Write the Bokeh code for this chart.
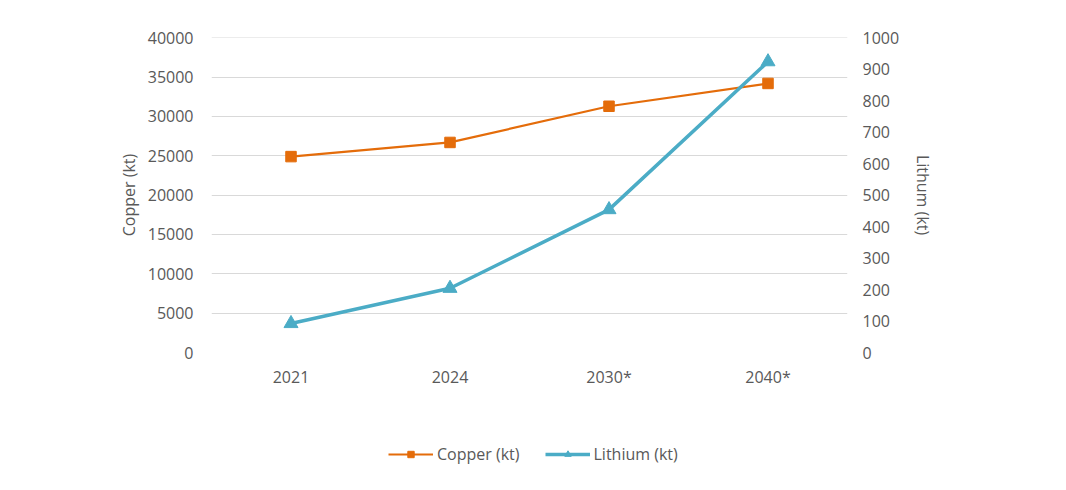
from bokeh.plotting import figure
from bokeh.models import Range1d, LinearAxis, Legend, LegendItem, FixedTicker
from bokeh.layouts import column
from bokeh.embed import file_html
from bokeh.resources import INLINE

years = ["2021", "2024", "2030*", "2040*"]
copper_kt = [24900, 26700, 31300, 34200]
lithium_kt = [92, 204, 454, 924]

left_ticks = [0, 5000, 10000, 15000, 20000, 25000, 30000, 35000, 40000]
right_ticks = [0, 100, 200, 300, 400, 500, 600, 700, 800, 900, 1000]

FONT = "Open Sans"
TXT = "#595959"
ORANGE = "#E46C0A"
BLUE = "#4BACC6"

p = figure(x_range=years, y_range=Range1d(0, 40040), width=1050, height=400,
           output_backend="svg", toolbar_location=None,
           min_border_left=211, min_border_right=203, min_border_top=37, min_border_bottom=48)
p.outline_line_color = None
p.x_range.range_padding = 0
p.extra_y_ranges = {"li": Range1d(0, 1001)}

p.yaxis.ticker = FixedTicker(ticks=left_ticks)
p.yaxis.axis_label = "Copper (kt)"
p.ygrid.ticker = FixedTicker(ticks=left_ticks)
p.ygrid.grid_line_color = "#D9D9D9"
p.ygrid.grid_line_width = 1
p.xgrid.grid_line_color = None

ra = LinearAxis(y_range_name="li", ticker=FixedTicker(ticks=right_ticks), axis_label="Lithum (kt)")
p.add_layout(ra, "right")

for ax in [p.yaxis[0], ra, p.xaxis[0]]:
    ax.axis_line_color = None
    ax.major_tick_line_color = None
    ax.minor_tick_line_color = None
    ax.major_label_text_font = FONT
    ax.major_label_text_font_size = "16px"
    ax.major_label_text_color = TXT
    ax.axis_label_text_font = FONT
    ax.axis_label_text_font_size = "16px"
    ax.axis_label_text_color = TXT
    ax.axis_label_text_font_style = "normal"

p.yaxis[0].major_label_standoff = 12
p.yaxis[0].axis_label_standoff = 5
ra.major_label_standoff = 9
ra.axis_label_standoff = 10
p.xaxis[0].major_label_standoff = 7

p.line(years, copper_kt, line_color=ORANGE, line_width=2.2)
p.scatter(years, copper_kt, marker="square", size=10.5, fill_color=ORANGE, line_color=ORANGE)
p.line(years, lithium_kt, y_range_name="li", line_color=BLUE, line_width=3.5)
p.scatter(years, lithium_kt, y_range_name="li", marker="triangle", size=14,
          fill_color=BLUE, line_color=BLUE)

# legend strip (its renderers sit outside the visible range; only their styles are shown)
q = figure(x_range=years, y_range=Range1d(-2, -1), width=1050, height=80,
           output_backend="svg", toolbar_location=None,
           min_border_left=0, min_border_right=0, min_border_top=0, min_border_bottom=0)
q.axis.visible = False
q.grid.visible = False
q.outline_line_color = None
cl = q.line(years, copper_kt, line_color=ORANGE, line_width=2.2)
cm = q.scatter(years, copper_kt, marker="square", size=10, fill_color=ORANGE, line_color=ORANGE)
ll = q.line(years, lithium_kt, line_color=BLUE, line_width=3.5)
lm = q.scatter(years, lithium_kt, marker="triangle", size=13, fill_color=BLUE, line_color=BLUE)

legend = Legend(items=[LegendItem(label="Copper (kt)", renderers=[cl, cm]),
                       LegendItem(label="Lithium (kt)", renderers=[ll, lm])],
                orientation="horizontal", location=(177, 15),
                label_text_font=FONT, label_text_font_size="16px", label_text_color=TXT,
                glyph_width=45, glyph_height=16, label_standoff=4, spacing=25,
                border_line_color=None, background_fill_alpha=0, padding=4, margin=0)
q.add_layout(legend, "center")

open("out.html", "w").write(file_html(column(p, q), INLINE))
